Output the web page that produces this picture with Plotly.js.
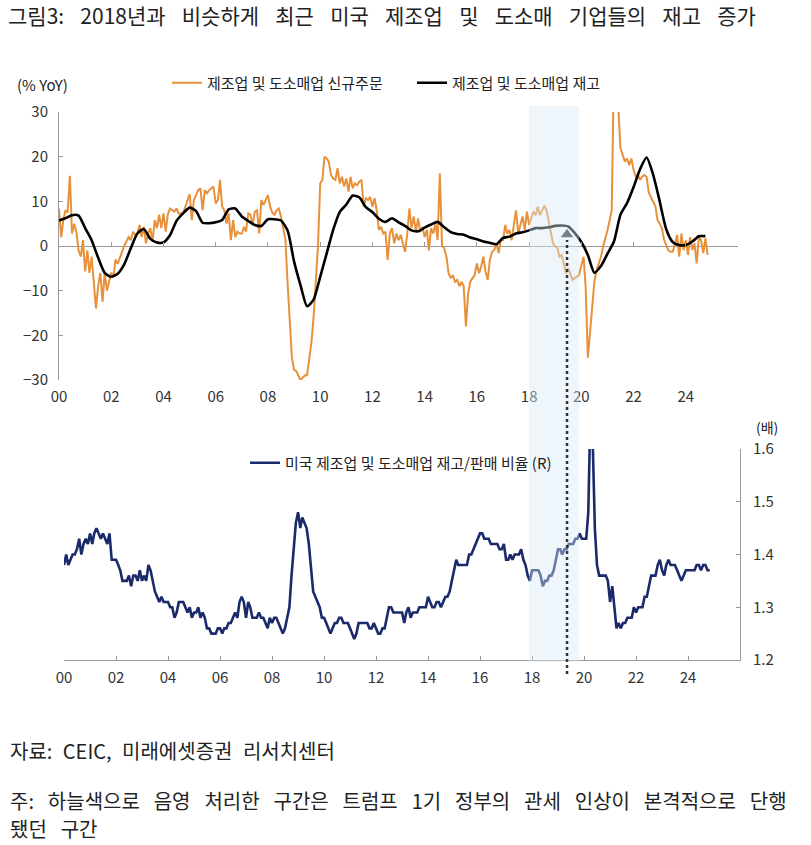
<!DOCTYPE html>
<html>
<head>
<meta charset="utf-8">
<script src="https://cdn.plot.ly/plotly-3.0.1.min.js"></script>
<style>
  html, body { margin: 0; padding: 0; background: #fff; }
  #chart { width: 811px; height: 845px; }
  .gtitle { word-spacing: 11.5px; }
  g.annotation[data-index="2"] text { word-spacing: 6px; }
  g.annotation[data-index="3"] text { word-spacing: 9.4px; }
  g.annotation[data-index="4"] text { word-spacing: 9.4px; }
</style>
</head>
<body>
<div id="chart"></div>
<script>
// ---------------- DATA ----------------
// 제조업 및 도소매업 신규주문 (% YoY), monthly from 2000-01
const orders2000 = [8.4, 2, 5.8, 8, 7.5, 15.7, 2.8, 5, 3, -1, -2.4, 1.3];
const orders2001 = [-5.7, -1, -6, -2.4, -8, -14, -9, -6, -12.5, -6, -10, -8];
const orders2002 = [-6, -7, -3, -4, -2.4, -1.3, 0, 1, 2, 1.3, 3.2, 2.5];
const orders2003 = [2.8, 4.7, 2, 4.3, 0.6, 2.8, 4, 1, 5.8, 4, 7, 4];
const orders2004 = [7.3, 3.2, 7, 8.4, 8, 7.7, 8.4, 7.3, 7.3, 7.3, 8.8, 10.3];
const orders2005 = [11.6, 5.8, 10.3, 11.4, 12.5, 12.9, 8, 12.5, 11.8, 12.5, 12.9, 13.3];
const orders2006 = [9.5, 10.3, 14.8, 8.8, 8, 5, 7.3, 1.3, 5.8, 2, 3.2, 2.8];
const orders2007 = [2.8, 4.3, 3.2, 7.3, 7, 4.7, 7.7, 8, 2.8, 10.3, 9.2, 10.3];
const orders2008 = [11.4, 8.8, 7.5, 7, 8, 8.4, 6.6, 4, 1.5, -8, -16, -25];
const orders2009 = [-27.7, -28, -29, -30, -29.5, -29, -28.9, -25, -21.5, -15.8, -7, 0];
const orders2010 = [14, 14.8, 20, 19.6, 18.9, 15.9, 15.1, 14.8, 17.4, 14, 15.5, 13.3];
const orders2011 = [15.1, 12.2, 15.5, 12.9, 14, 13.6, 14.4, 14.8, 8.8, 10.7, 10.3, 11];
const orders2012 = [8.8, 10.7, 8, 3.6, 4.3, 2.8, 3.2, -3.1, 2.8, 4, 0.6, 2.8];
const orders2013 = [1.3, 2.5, 0.6, -1.3, 2.5, 8.4, 4, 6.6, 3.2, 6.2, 3.2, 4.3];
const orders2014 = [2, 3.6, -1, 4, 2.8, 5, 1.3, 16.3, 0, -0.5, -2.4, -6.1];
const orders2015 = [-7.2, -6.5, -8, -7.6, -9, -8, -9, -18, -10.6, -8, -7.2, -6.5];
const orders2016 = [-3.9, -6.1, -4.6, -2.4, -5.7, -7.6, -3.1, -1.3, -0.9, 0.6, -1.6, 1.3];
const orders2017 = [1.3, 4.7, 2.8, 3.6, 1.3, 5.4, 8, 2.8, 5, 6.6, 3.6, 7.7];
const orders2018 = [4.7, 6.6, 7.7, 6.9, 8.8, 6.9, 8, 9, 8, 5.5, 3, 0.6];
const orders2019 = [-0.1, -0.5, -2.4, -2, -3.9, -6.1, -5, -6.5, -7.6, -7.2, -6.9, -6.5];
const orders2020 = [-4.3, -2.4, -9, -25, -19.5, -13, -8, -5.5, -3.9, -2.4, -0.1, 2.1];
const orders2021 = [3.6, 5.8, 8, 40, 38, 31, 22, 20.4, 18.9, 19.6, 18.1, 19.6];
const orders2022 = [17, 15.5, 15.9, 14.8, 15.5, 15.9, 15.5, 12, 10.7, 9.9, 9, 5.8];
const orders2023 = [5, 4, 1.5, 0.2, -0.9, -1.3, -1.3, 0.3, 2.5, -2.4, 2.8, -0.9];
const orders2024 = [1.3, -2, 2, -0.9, 0.6, -3.9, 2, 1.3, -1.6, 1.7, -2];

// 제조업 및 도소매업 재고 (% YoY), quarterly readings from 2000-01
const inventoriesQ = [5.7, 6.2, 6.9, 6.8, 4.0, 1.3, -2.6, -6, -6.9, -6.2, -4.1, -0.5,
  2.8, 3.8, 1.6, 0.8, 0.8, 2.4, 5.6, 7.3, 8.6, 7.8, 5.2, 5.1, 5.3, 5.8, 8.2, 8.4,
  6.6, 5.6, 4.7, 4.5, 6, 6, 5.7, 3.5, -3.5, -8.8, -13.5, -12, -6.9, -1.7, 3.6, 7.6,
  9.3, 11.3, 10.9, 8.7, 7.6, 6.1, 5.4, 6.2, 5.3, 4.5, 3.5, 3.3, 4.1, 4.8, 5.4, 4.2,
  3.1, 2.7, 2.5, 1.9, 1.5, 1, 0.7, 0.4, 1.8, 2.1, 2.8, 3.1, 3.5, 4, 4, 4.2,
  4.5, 4.6, 4.4, 2.9, 0.9, -2, -6, -4.5, -1.7, 1, 7, 9.6, 13.2, 17.2, 19.8, 16,
  10, 3.8, 0.9, 0.2, 0.2, 1, 2.2, 2.2];

// 미국 제조업 및 도소매업 재고/판매 비율 (배), monthly from 2000-01
const ratio2000 = [1.38, 1.40, 1.38, 1.39, 1.40, 1.40, 1.41, 1.43, 1.40, 1.42, 1.43, 1.42];
const ratio2001 = [1.44, 1.42, 1.44, 1.45, 1.44, 1.43, 1.44, 1.43, 1.42, 1.44, 1.39, 1.39];
const ratio2002 = [1.39, 1.38, 1.37, 1.35, 1.35, 1.35, 1.36, 1.34, 1.36, 1.36, 1.35, 1.37];
const ratio2003 = [1.35, 1.36, 1.35, 1.38, 1.37, 1.35, 1.33, 1.32, 1.31, 1.32, 1.31, 1.31];
const ratio2004 = [1.31, 1.30, 1.30, 1.28, 1.29, 1.31, 1.31, 1.31, 1.30, 1.29, 1.30, 1.28];
const ratio2005 = [1.29, 1.29, 1.30, 1.28, 1.29, 1.28, 1.26, 1.26, 1.25, 1.25, 1.25, 1.26];
const ratio2006 = [1.26, 1.25, 1.26, 1.26, 1.27, 1.27, 1.28, 1.29, 1.28, 1.31, 1.32, 1.31];
const ratio2007 = [1.28, 1.31, 1.30, 1.28, 1.28, 1.28, 1.29, 1.28, 1.28, 1.27, 1.26, 1.28];
const ratio2008 = [1.27, 1.28, 1.28, 1.27, 1.26, 1.25, 1.26, 1.28, 1.30, 1.36, 1.42, 1.46];
const ratio2009 = [1.48, 1.45, 1.47, 1.46, 1.45, 1.42, 1.38, 1.33, 1.32, 1.31, 1.30, 1.28];
const ratio2010 = [1.28, 1.27, 1.26, 1.25, 1.26, 1.27, 1.27, 1.28, 1.28, 1.27, 1.27, 1.27];
const ratio2011 = [1.26, 1.25, 1.24, 1.25, 1.27, 1.27, 1.27, 1.27, 1.27, 1.26, 1.26, 1.27];
const ratio2012 = [1.26, 1.25, 1.25, 1.26, 1.26, 1.28, 1.30, 1.30, 1.29, 1.29, 1.29, 1.29];
const ratio2013 = [1.29, 1.27, 1.29, 1.30, 1.28, 1.29, 1.29, 1.29, 1.30, 1.30, 1.30, 1.30];
const ratio2014 = [1.32, 1.31, 1.30, 1.30, 1.31, 1.31, 1.30, 1.31, 1.32, 1.32, 1.33, 1.35];
const ratio2015 = [1.37, 1.39, 1.38, 1.38, 1.38, 1.38, 1.38, 1.40, 1.40, 1.41, 1.42, 1.43];
const ratio2016 = [1.44, 1.44, 1.43, 1.43, 1.43, 1.42, 1.42, 1.42, 1.42, 1.41, 1.41, 1.42];
const ratio2017 = [1.39, 1.39, 1.40, 1.39, 1.40, 1.40, 1.40, 1.41, 1.39, 1.38, 1.36, 1.35];
const ratio2018 = [1.37, 1.37, 1.37, 1.37, 1.36, 1.34, 1.35, 1.35, 1.36, 1.36, 1.37, 1.39];
const ratio2019 = [1.41, 1.41, 1.40, 1.41, 1.41, 1.42, 1.42, 1.42, 1.43, 1.43, 1.44, 1.43];
const ratio2020 = [1.43, 1.43, 1.48, 1.68, 1.62, 1.45, 1.38, 1.36, 1.36, 1.36, 1.36, 1.35];
const ratio2021 = [1.31, 1.34, 1.30, 1.26, 1.27, 1.26, 1.27, 1.27, 1.28, 1.28, 1.28, 1.30];
const ratio2022 = [1.29, 1.30, 1.30, 1.30, 1.32, 1.32, 1.34, 1.36, 1.36, 1.36, 1.38, 1.39];
const ratio2023 = [1.37, 1.36, 1.38, 1.39, 1.38, 1.38, 1.38, 1.37, 1.36, 1.35, 1.36, 1.37];
const ratio2024 = [1.37, 1.37, 1.37, 1.37, 1.38, 1.38, 1.37, 1.38, 1.38, 1.37, 1.37];

// shaded period (트럼프 1기 관세 인상) and marker date
const shadeStart = '2018-01-01';
const shadeEnd = '2019-12-01';
const markerDate = '2019-06-15';
const markerLevel = 2.6;

// text
const titleText = '그림3: 2018년과 비슷하게 최근 미국 제조업 및 도소매 기업들의 재고 증가';
const ordersName = '제조업 및 도소매업 신규주문';
const invName = '제조업 및 도소매업 재고';
const ratioName = '미국 제조업 및 도소매업 재고/판매 비율 (R)';
const leftUnit = '(% YoY)';
const rightUnit = '(배)';
const sourceText = '자료: CEIC, 미래에셋증권 리서치센터';
const noteLine1 = '주: 하늘색으로 음영 처리한 구간은 트럼프 1기 정부의 관세 인상이 본격적으로 단행';
const noteLine2 = '됐던 구간';

// ---------------- BUILD ----------------
const orders = [].concat(orders2000, orders2001, orders2002, orders2003, orders2004,
  orders2005, orders2006, orders2007, orders2008, orders2009, orders2010, orders2011,
  orders2012, orders2013, orders2014, orders2015, orders2016, orders2017, orders2018,
  orders2019, orders2020, orders2021, orders2022, orders2023, orders2024);
const ratio = [].concat(ratio2000, ratio2001, ratio2002, ratio2003, ratio2004,
  ratio2005, ratio2006, ratio2007, ratio2008, ratio2009, ratio2010, ratio2011,
  ratio2012, ratio2013, ratio2014, ratio2015, ratio2016, ratio2017, ratio2018,
  ratio2019, ratio2020, ratio2021, ratio2022, ratio2023, ratio2024);

function monthDates(n, step) {
  const out = [];
  for (let i = 0; i < n; i++) {
    const m = i * step;
    const y = 2000 + Math.floor(m / 12);
    const mm = (m % 12) + 1;
    out.push(y + '-' + String(mm).padStart(2, '0') + '-01');
  }
  return out;
}

const W = 811, H = 845;
const px = v => v / W;           // horizontal pixel -> paper
const py = v => 1 - v / H;       // vertical pixel -> paper

const FONT = '"Noto Sans CJK KR", "Noto Sans", sans-serif';
const tickFont = { family: FONT, size: 15, color: '#333' };

const traces = [
  {
    x: monthDates(orders.length, 1), y: orders, type: 'scatter', mode: 'lines',
    name: ordersName, line: { color: '#E8913A', width: 2 },
    xaxis: 'x', yaxis: 'y', legend: 'legend'
  },
  {
    x: monthDates(inventoriesQ.length, 3), y: inventoriesQ, type: 'scatter', mode: 'lines',
    name: invName, line: { color: '#000000', width: 2.6, shape: 'spline', smoothing: 0.6 },
    xaxis: 'x', yaxis: 'y', legend: 'legend'
  },
  {
    x: [markerDate], y: [markerLevel], type: 'scatter', mode: 'markers',
    marker: { symbol: 'triangle-up', size: 11, color: '#333' },
    showlegend: false, xaxis: 'x', yaxis: 'y'
  },
  {
    x: [], y: [], type: 'scatter', mode: 'lines', showlegend: false,
    xaxis: 'x3', yaxis: 'y'
  },
  {
    x: monthDates(ratio.length, 1), y: ratio, type: 'scatter', mode: 'lines',
    name: ratioName, line: { color: '#1B2A6B', width: 2.6 },
    xaxis: 'x2', yaxis: 'y2', legend: 'legend2'
  }
];

const xRange = ['2000-01-01', '2025-12-31'];

const layout = {
  width: W, height: H,
  margin: { l: 0, r: 0, t: 0, b: 0 },
  paper_bgcolor: '#ffffff', plot_bgcolor: 'rgba(0,0,0,0)',
  font: { family: FONT, color: '#222' },
  title: {
    text: titleText, x: px(8), xanchor: 'left', y: py(17), yanchor: 'middle',
    font: { family: FONT, size: 21, color: '#222' }
  },
  xaxis: {
    domain: [px(59), px(738)], anchor: 'y', type: 'date', range: xRange,
    tick0: '2000-01-01', dtick: 'M24', tickformat: '%y',
    showgrid: false, showline: false, zeroline: false, ticks: '',
    tickfont: tickFont, ticklabelstandoff: 6
  },
  xaxis3: {
    domain: [px(59), px(738)], overlaying: 'x', anchor: 'free', position: py(246),
    type: 'date', range: xRange, tick0: '2000-01-01', dtick: 'M24',
    showticklabels: false, showgrid: false, showline: false, zeroline: false,
    ticks: 'inside', ticklen: 4, tickcolor: '#999', tickwidth: 1
  },
  yaxis: {
    domain: [py(380), py(112)], anchor: 'x', range: [-30, 30], dtick: 10,
    showgrid: false, showline: true, linecolor: '#999', linewidth: 1,
    ticks: 'inside', ticklen: 4, tickcolor: '#999',
    zeroline: true, zerolinecolor: '#999', zerolinewidth: 1,
    tickfont: tickFont, ticklabelstandoff: 7
  },
  xaxis2: {
    domain: [px(64), px(740)], anchor: 'y2', type: 'date', range: xRange,
    tick0: '2000-01-01', dtick: 'M24', tickformat: '%y',
    showgrid: false, showline: true, linecolor: '#999', linewidth: 1, zeroline: false,
    ticks: 'inside', ticklen: 4, tickcolor: '#999',
    tickfont: tickFont, ticklabelstandoff: 4
  },
  yaxis2: {
    domain: [py(660), py(449)], anchor: 'x2', side: 'right', range: [1.2, 1.6],
    dtick: 0.1, tickformat: '.1f',
    showgrid: false, showline: true, linecolor: '#999', linewidth: 1, zeroline: false,
    ticks: 'inside', ticklen: 4, tickcolor: '#999',
    tickfont: tickFont, ticklabelstandoff: 9
  },
  legend: {
    orientation: 'h', x: px(167), xanchor: 'left', y: py(83), yanchor: 'middle',
    bgcolor: 'rgba(0,0,0,0)', font: { family: FONT, size: 15, color: '#222' },
    entrywidth: 200, entrywidthmode: 'pixels', itemwidth: 30, tracegroupgap: 0
  },
  legend2: {
    orientation: 'h', x: px(245), xanchor: 'left', y: py(463), yanchor: 'middle',
    bgcolor: 'rgba(0,0,0,0)', font: { family: FONT, size: 15, color: '#222' },
    itemwidth: 30
  },
  shapes: [
    {
      type: 'rect', xref: 'x', yref: 'paper', x0: shadeStart, x1: shadeEnd,
      y0: py(662), y1: py(106), layer: 'above',
      fillcolor: 'rgba(214,234,246,0.42)', line: { width: 0 }
    },
    {
      type: 'line', xref: 'x', yref: 'paper', x0: markerDate, x1: markerDate,
      y0: py(674), y1: py(240), layer: 'above',
      line: { color: '#333', width: 2.5, dash: 'dot' }
    }
  ],
  annotations: [
    { text: leftUnit, xref: 'paper', yref: 'paper', x: px(15), y: py(85),
      xanchor: 'left', yanchor: 'middle', showarrow: false,
      font: { family: FONT, size: 15, color: '#222' } },
    { text: rightUnit, xref: 'paper', yref: 'paper', x: px(754), y: py(427),
      xanchor: 'left', yanchor: 'middle', showarrow: false,
      font: { family: FONT, size: 14, color: '#222' } },
    { text: sourceText, xref: 'paper', yref: 'paper', x: px(8), y: py(750),
      xanchor: 'left', yanchor: 'middle', align: 'left', showarrow: false,
      font: { family: FONT, size: 20, color: '#222' } },
    { text: noteLine1, xref: 'paper', yref: 'paper', x: px(8), y: py(800),
      xanchor: 'left', yanchor: 'middle', align: 'left', showarrow: false,
      font: { family: FONT, size: 20, color: '#222' } },
    { text: noteLine2, xref: 'paper', yref: 'paper', x: px(8), y: py(828),
      xanchor: 'left', yanchor: 'middle', align: 'left', showarrow: false,
      font: { family: FONT, size: 20, color: '#222' } }
  ]
};

Plotly.newPlot('chart', traces, layout, { staticPlot: true, displayModeBar: false });
</script>
</body>
</html>
